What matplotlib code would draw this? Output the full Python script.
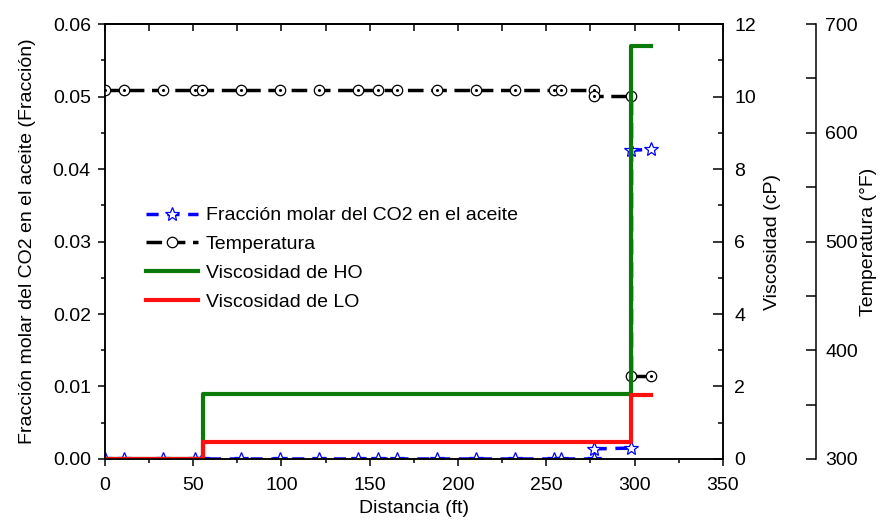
import numpy as np
import matplotlib.pyplot as plt
from matplotlib.ticker import MultipleLocator

plt.rcParams['font.family'] = ['Liberation Sans', 'DejaVu Sans']
plt.rcParams['font.size'] = 14

# distance along the model (ft)
dist = [0, 10.7, 33, 51.2, 55, 77, 99, 121.5, 143.5, 154.5, 165.5, 188, 210,
        232.5, 254.5, 258.5, 276.8, 276.8, 298, 298, 309]
# CO2 mole fraction in oil
co2 = [0, 0, 0, 0, 0, 0, 0, 0, 0, 0, 0, 0, 0,
       0, 0, 0, 0, 0.0014, 0.0015, 0.0426, 0.0427]
# temperature (F)
temp = [639, 639, 639, 639, 639, 639, 639, 639, 639, 639, 639, 639, 639,
        639, 639, 639, 639, 634, 634, 376, 376]

# viscosity steps (cP)
dist_ho = [0, 55.6, 276.8, 298, 309]
visc_ho = [0, 1.78, 1.80, 11.4, 11.4]
dist_lo = [0, 55.6, 298, 309]
visc_lo = [0, 0.48, 1.76, 1.76]

fig = plt.figure(figsize=(8.8, 5.23), dpi=100)
ax = fig.add_axes([0.119, 0.1224, 0.7025, 0.8316])
ax_t = ax.twinx()
ax_v = ax.twinx()

co2_line, = ax.plot(dist, co2, color='blue', lw=2.5, dashes=(3.5, 2.5),
                    marker='*', ms=10, mfc='white', mec='blue', mew=0.9,
                    label='Fracción molar del CO2 en el aceite')
temp_line, = ax_t.plot(dist, temp, color='black', lw=2.5, dashes=(4.5, 2.2),
                       marker='o', ms=7.5, mfc='white', mec='black', mew=0.9,
                       label='Temperatura')
ax_t.plot(dist, temp, ls='none', marker='o', ms=1.2, color='black')
ho_line, = ax_v.plot(dist_ho, visc_ho, drawstyle='steps-post', color='#0a7a0a',
                     lw=3, label='Viscosidad de HO')
lo_line, = ax_v.plot(dist_lo, visc_lo, drawstyle='steps-post', color='#ff1010',
                     lw=3, label='Viscosidad de LO')

ax.set_xlim(0, 350)
ax.set_ylim(0, 0.06)
ax_t.set_ylim(300, 700)
ax_v.set_ylim(0, 12)

ax.xaxis.set_major_locator(MultipleLocator(50))
ax.xaxis.set_minor_locator(MultipleLocator(25))
ax.yaxis.set_major_locator(MultipleLocator(0.01))
ax.yaxis.set_minor_locator(MultipleLocator(0.005))
ax.yaxis.set_major_formatter(plt.FormatStrFormatter('%.2f'))
ax.tick_params(which='major', direction='out', length=5, width=1.1, pad=5)
ax.tick_params(axis='x', which='major', pad=8)
ax.tick_params(which='minor', direction='out', length=3, width=1.1)

top = ax.secondary_xaxis('top')
top.xaxis.set_major_locator(MultipleLocator(25))
top.tick_params(direction='in', length=5, width=1.1, labeltop=False)

ax_v.yaxis.set_major_locator(MultipleLocator(2))
ax_v.yaxis.set_minor_locator(MultipleLocator(1))
ax_v.tick_params(which='major', direction='in', length=7, width=1.1, pad=8)
ax_v.tick_params(which='minor', direction='in', length=3.5, width=1.1)

ax_t.spines['right'].set_position(('axes', 1.15))
ax_t.spines['right'].set_bounds(300, 700)
ax_t.yaxis.set_major_locator(MultipleLocator(100))
ax_t.yaxis.set_minor_locator(MultipleLocator(50))
ax_t.tick_params(which='both', direction='in', length=7, width=1.1, pad=7)
for a in (ax_t,):
    a.spines['top'].set_visible(False)
    a.spines['bottom'].set_visible(False)
    a.spines['left'].set_visible(False)
for a in (ax, ax_t, ax_v, top):
    for s in a.spines.values():
        s.set_linewidth(1.1)

ax.set_xlabel('Distancia (ft)', labelpad=4)
ax.set_ylabel('Fracción molar del CO2 en el aceite (Fracción)', labelpad=12)
ax_v.set_ylabel('Viscosidad (cP)', labelpad=6)
ax_t.set_ylabel('Temperatura (°F)', labelpad=1)

ax_v.legend(handles=[co2_line, temp_line, ho_line, lo_line], frameon=False,
            loc='upper left', bbox_to_anchor=(0.066, 0.58), borderpad=0,
            borderaxespad=0, handlelength=2.7, handletextpad=0.4,
            labelspacing=0.58)

fig.savefig('out.png', dpi=100)
